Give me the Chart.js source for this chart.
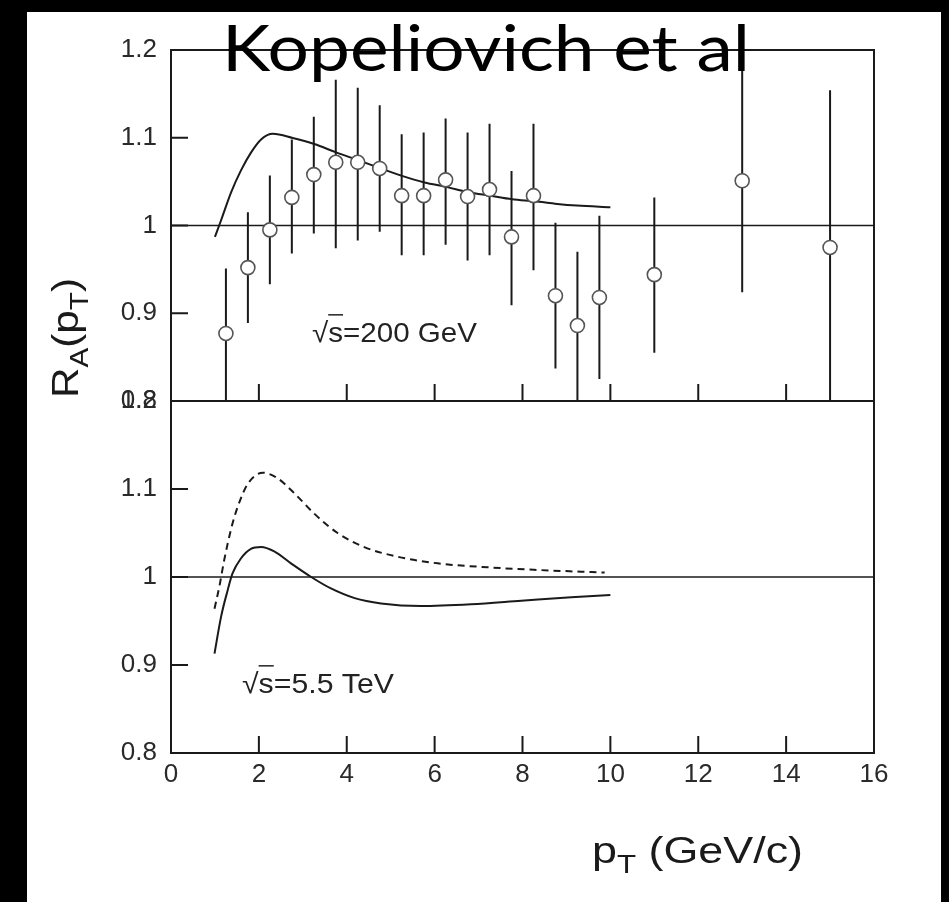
<!DOCTYPE html>
<html><head><meta charset="utf-8">
<script src="https://cdn.jsdelivr.net/npm/chart.js@4.4.1/dist/chart.umd.min.js"></script>
<style>
html,body{margin:0;padding:0;background:#000;width:949px;height:902px;overflow:hidden}
#paper{position:absolute;left:27px;top:12px;width:914px;height:890px;background:#fff}
canvas{position:absolute;left:0;top:0}
</style></head><body>
<div id="paper"></div>
<canvas id="cA" width="949" height="902"></canvas>
<canvas id="cB" width="949" height="902"></canvas>
<script>
// ---------- data ----------
const yTicks = [0.8, 0.9, 1.0, 1.1, 1.2];
const yTickLabels = ['0.8', '0.9', '1', '1.1', '1.2'];
const xTicks = [0, 2, 4, 6, 8, 10, 12, 14, 16];
const xTickLabels = ['0', '2', '4', '6', '8', '10', '12', '14', '16'];
const refLine = 1.0;

// sqrt(s)=200 GeV measured points
const ptData = [1.25, 1.75, 2.25, 2.75, 3.25, 3.75, 4.25, 4.75, 5.25, 5.75, 6.25, 6.75, 7.25, 7.75, 8.25, 8.75, 9.25, 9.75, 11, 13, 15];
const raData = [0.877, 0.952, 0.995, 1.032, 1.058, 1.072, 1.072, 1.065, 1.034, 1.034, 1.052, 1.033, 1.041, 0.987, 1.034, 0.920, 0.886, 0.918, 0.944, 1.051, 0.975];
const raHigh = [0.951, 1.015, 1.057, 1.098, 1.124, 1.166, 1.157, 1.137, 1.104, 1.106, 1.122, 1.106, 1.116, 1.062, 1.116, 1.003, 0.970, 1.011, 1.032, 1.22, 1.154];
const raLow  = [0.78, 0.889, 0.933, 0.968, 0.991, 0.974, 0.983, 0.993, 0.966, 0.966, 0.978, 0.960, 0.966, 0.909, 0.949, 0.837, 0.78, 0.825, 0.855, 0.924, 0.78];

// sqrt(s)=200 GeV calculation
const pt200 = [1.0, 1.14, 1.37, 1.59, 1.82, 2.05, 2.32, 2.77, 3.26, 3.76, 4.29, 4.75, 5.24, 5.77, 6.26, 6.77, 7.27, 7.76, 8.28, 8.79, 9.24, 10.0];
const ra200 = [0.987, 1.006, 1.038, 1.0625, 1.083, 1.098, 1.1045, 1.0997, 1.0928, 1.0833, 1.0739, 1.0655, 1.0568, 1.049, 1.044, 1.038, 1.034, 1.030, 1.0276, 1.0246, 1.0227, 1.0208];

// sqrt(s)=5.5 TeV calculations
const ptLhcSolid = [0.99, 1.14, 1.29, 1.40, 1.59, 1.82, 2.05, 2.35, 2.73, 3.19, 3.64, 4.18, 4.78, 5.69, 6.83, 7.97, 9.11, 10.0];
const raLhcSolid = [0.913, 0.955, 0.985, 1.004, 1.021, 1.032, 1.034, 1.029, 1.0155, 1.0, 0.987, 0.976, 0.970, 0.967, 0.969, 0.973, 0.977, 0.9795];
const ptLhcDash = [0.99, 1.10, 1.21, 1.37, 1.52, 1.75, 2.09, 2.43, 2.81, 3.26, 3.80, 4.40, 5.16, 6.07, 7.21, 8.35, 9.87];
const raLhcDash = [0.964, 0.989, 1.019, 1.055, 1.080, 1.106, 1.1185, 1.112, 1.095, 1.072, 1.0497, 1.034, 1.023, 1.0155, 1.011, 1.008, 1.005];

// ---------- helpers ----------
const SANS = "'Liberation Sans', Arial, Helvetica, sans-serif";
const INK = '#1a1a1a';
const zip = (xs, ys) => xs.map((x, i) => ({x, y: ys[i]}));
const errSegments = [];
ptData.forEach((p, i) => { errSegments.push({x: p, y: raLow[i]}, {x: p, y: raHigh[i]}, {x: p, y: null}); });

function fitText(ctx, parts, o) {
  ctx.save();
  let w = 0;
  const widths = parts.map(p => { ctx.font = `${o.weight || 400} ${o.size * (p.s || 1)}px ${o.family}`; const m = ctx.measureText(p.t).width; w += m; return m; });
  const sx = o.width ? o.width / w : 1;
  ctx.translate(o.x, o.y);
  if (o.rotate) ctx.rotate(o.rotate);
  ctx.scale(sx, 1);
  ctx.fillStyle = o.color || INK; ctx.strokeStyle = o.color || INK;
  ctx.textBaseline = 'alphabetic'; ctx.textAlign = 'left';
  let cx = 0;
  parts.forEach((p, i) => {
    ctx.font = `${o.weight || 400} ${o.size * (p.s || 1)}px ${o.family}`;
    const dy = (p.dy || 0) * o.size;
    ctx.fillText(p.t, cx, dy);
    if (p.over) {
      ctx.lineWidth = 1.5;
      ctx.beginPath(); ctx.moveTo(cx, -0.97 * o.size); ctx.lineTo(cx + widths[i], -0.97 * o.size); ctx.stroke();
    }
    cx += widths[i];
  });
  ctx.restore();
}

function yAxisCfg() {
  return {
    type: 'linear', position: 'left', min: 0.8, max: 1.2,
    afterFit: s => { s.width = 171; },
    afterBuildTicks: s => { s.ticks = yTicks.map(v => ({value: v})); },
    grid: {display: false, drawTicks: false},
    border: {display: false},
    ticks: {padding: 14, color: '#2a2a2a', font: {family: SANS, size: 26}, callback: (v, i) => yTickLabels[i]}
  };
}

function panelPlugin(id, annot) {
  return {
    id,
    beforeDatasetsDraw(chart) {
      const {ctx, chartArea: a, scales: {y}} = chart;
      const py = y.getPixelForValue(refLine);
      ctx.save(); ctx.strokeStyle = INK; ctx.lineWidth = 1.7;
      ctx.beginPath(); ctx.moveTo(a.left, py); ctx.lineTo(a.right, py); ctx.stroke();
      ctx.restore();
    },
    afterDatasetsDraw(chart) {
      const {ctx, chartArea: a, scales: {x, y}} = chart;
      ctx.save(); ctx.strokeStyle = INK; ctx.lineWidth = 2;
      ctx.strokeRect(a.left, a.top, a.right - a.left, a.bottom - a.top);
      ctx.beginPath();
      yTicks.forEach(v => { const py = y.getPixelForValue(v); ctx.moveTo(a.left, py); ctx.lineTo(a.left + 17, py); });
      xTicks.slice(1, -1).forEach(v => { const px = x.getPixelForValue(v); ctx.moveTo(px, a.bottom); ctx.lineTo(px, a.bottom - 17); });
      ctx.stroke();
      ctx.restore();
      fitText(ctx, annot.parts, {x: annot.x, y: annot.y, width: annot.width, size: 28, family: SANS, color: '#222'});
    }
  };
}

const xHidden = {type: 'linear', min: 0, max: 16, display: false};
const common = {
  responsive: false, animation: false, events: [],
  plugins: {legend: {display: false}, tooltip: {enabled: false}, title: {display: false}},
};

// ---------- top panel (200 GeV) ----------
new Chart(document.getElementById('cA'), {
  type: 'line',
  data: {datasets: [
    {data: zip(ptData, raData), showLine: false, pointRadius: 7, pointBorderWidth: 1.6, pointBorderColor: '#555', pointBackgroundColor: '#fff', order: 0, clip: 0},
    {data: errSegments, spanGaps: false, borderColor: INK, borderWidth: 2, pointRadius: 0, order: 1, clip: 0},
    {data: zip(pt200, ra200), borderColor: INK, borderWidth: 2, pointRadius: 0, cubicInterpolationMode: 'monotone', order: 2, clip: 0}
  ]},
  options: Object.assign({}, common, {
    layout: {padding: {left: 0, right: 75, top: 50, bottom: 501}},
    scales: {x: xHidden, y: yAxisCfg()}
  }),
  plugins: [panelPlugin('panelA', {x: 312, y: 342, width: 165, parts: [{t: '\u221A'}, {t: 's', over: true}, {t: '=200 GeV'}]})]
});

// ---------- bottom panel (5.5 TeV) + titles ----------
const titlePlugin = {
  id: 'titles',
  afterDraw(chart) {
    const ctx = chart.ctx;
    fitText(ctx, [{t: 'Kopeliovich et al'}], {x: 222, y: 71, width: 528, size: 64, family: "Lato, 'Open Sans', sans-serif", color: '#000'});
    fitText(ctx, [{t: 'p'}, {t: 'T', s: 0.7, dy: 0.28}, {t: ' (GeV/c)'}], {x: 592, y: 863, width: 211, size: 37, family: SANS, color: INK});
    fitText(ctx, [{t: 'R'}, {t: 'A', s: 0.7, dy: 0.28}, {t: '(p'}, {t: 'T', s: 0.7, dy: 0.28}, {t: ')'}], {x: 78, y: 398, width: 120, size: 37, family: SANS, color: INK, rotate: -Math.PI / 2});
  }
};

new Chart(document.getElementById('cB'), {
  type: 'line',
  data: {datasets: [
    {data: zip(ptLhcSolid, raLhcSolid), borderColor: INK, borderWidth: 2, pointRadius: 0, cubicInterpolationMode: 'monotone', clip: 0},
    {data: zip(ptLhcDash, raLhcDash), borderColor: INK, borderWidth: 2, borderDash: [7, 5], pointRadius: 0, cubicInterpolationMode: 'monotone', clip: 0}
  ]},
  options: Object.assign({}, common, {
    layout: {padding: {left: 0, right: 75, top: 401, bottom: 89}},
    scales: {
      x: {
        type: 'linear', position: 'bottom', min: 0, max: 16,
        afterFit: s => { s.height = 60; },
        afterBuildTicks: s => { s.ticks = xTicks.map(v => ({value: v})); },
        grid: {display: false, drawTicks: false},
        border: {display: false},
        ticks: {padding: 6, maxRotation: 0, color: '#2a2a2a', font: {family: SANS, size: 26}, callback: (v, i) => xTickLabels[i]}
      },
      y: yAxisCfg()
    }
  }),
  plugins: [panelPlugin('panelB', {x: 242, y: 693, width: 152, parts: [{t: '\u221A'}, {t: 's', over: true}, {t: '=5.5 TeV'}]}), titlePlugin]
});
</script>
</body></html>
